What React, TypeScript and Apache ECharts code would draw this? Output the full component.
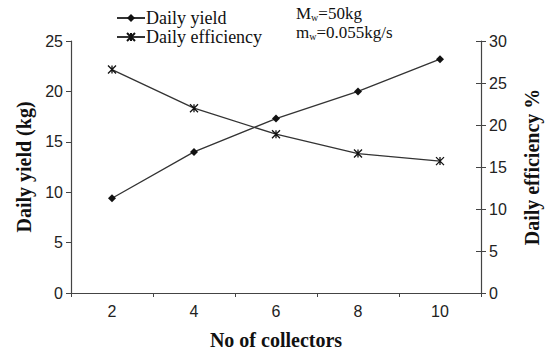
import React, { useEffect, useRef } from "react";
import * as echarts from "echarts";

const categories = ["2", "4", "6", "8", "10"];
const dailyYield = [9.4, 14.0, 17.3, 20.0, 23.2];
const dailyEfficiency = [26.6, 22.0, 18.9, 16.6, 15.7];
const leftTicks = { min: 0, max: 25, interval: 5 };
const rightTicks = { min: 0, max: 30, interval: 5 };

const STAR = "path://M0,0L10,10M10,0L0,10M5,0L5,10";

export default function App() {
  const ref = useRef<HTMLDivElement>(null);
  useEffect(() => {
    document.body.style.margin = "0";
    const chart = echarts.init(ref.current!, null, { renderer: "svg" });
    const axisColor = "#444";
    const serif = "Liberation Serif, Times New Roman, serif";
    const tickLabel = { color: "#222", fontSize: 16, fontFamily: "Liberation Sans, Arial, sans-serif" };
    const nameStyle = { color: "#111", fontSize: 20, fontWeight: "bold" as const, fontFamily: serif };
    chart.setOption({
      animation: false,
      backgroundColor: "#fff",
      grid: { left: 71, right: 64, top: 41, bottom: 57, containLabel: false },
      legend: {
        orient: "vertical",
        left: 111,
        top: 4,
        itemWidth: 28,
        itemHeight: 10,
        itemGap: 1,
        textStyle: { color: "#111", fontSize: 18, fontFamily: serif, padding: [0, 0, 0, -4] },
        data: ["Daily yield", "Daily efficiency"],
      },
      xAxis: {
        type: "category",
        data: categories,
        boundaryGap: true,
        name: "No of collectors",
        nameLocation: "middle",
        nameGap: 37,
        nameTextStyle: nameStyle,
        axisLine: { lineStyle: { color: axisColor, width: 1.2 } },
        axisTick: { show: true, length: 4, lineStyle: { color: axisColor } },
        axisLabel: { ...tickLabel, margin: 10 },
      },
      yAxis: [
        {
          type: "value",
          ...leftTicks,
          position: "left",
          name: "Daily yield (kg)",
          nameLocation: "middle",
          nameGap: 37,
          nameTextStyle: nameStyle,
          axisLine: { show: true, lineStyle: { color: axisColor, width: 1.2 } },
          axisTick: { show: true, length: 5, lineStyle: { color: axisColor } },
          axisLabel: { ...tickLabel, margin: 8 },
          splitLine: { show: false },
        },
        {
          type: "value",
          ...rightTicks,
          position: "right",
          name: "Daily efficiency %",
          nameLocation: "middle",
          nameGap: 41,
          nameRotate: 90,
          nameTextStyle: nameStyle,
          axisLine: { show: true, lineStyle: { color: axisColor, width: 1.2 } },
          axisTick: { show: true, length: 5, lineStyle: { color: axisColor } },
          axisLabel: { ...tickLabel, margin: 8 },
          splitLine: { show: false },
        },
        {
          type: "value",
          ...rightTicks,
          position: "right",
          axisLine: { show: false },
          axisTick: { show: true, inside: true, length: 5, lineStyle: { color: axisColor } },
          axisLabel: { show: false },
          splitLine: { show: false },
        },
      ],
      series: [
        {
          name: "Daily yield",
          type: "line",
          yAxisIndex: 0,
          data: dailyYield,
          symbol: "diamond",
          symbolSize: 8,
          lineStyle: { color: "#333", width: 1.3 },
          itemStyle: { color: "#111" },
        },
        {
          name: "Daily efficiency",
          type: "line",
          yAxisIndex: 1,
          data: dailyEfficiency,
          symbol: STAR,
          symbolSize: 8,
          lineStyle: { color: "#333", width: 1.3 },
          itemStyle: { color: "#111", borderColor: "#111", borderWidth: 1.3 },
        },
      ],
      graphic: [
        {
          type: "text",
          left: 296,
          top: 5,
          style: {
            text: "{b|M}{s|w}{b|=50kg}",
            rich: {
              b: { fontSize: 17, fontFamily: serif, fill: "#111" },
              s: { fontSize: 10, fontFamily: serif, fill: "#111", padding: [8, 0, 0, 0] },
            },
          },
        },
        {
          type: "text",
          left: 296,
          top: 24,
          style: {
            text: "{b|m}{s|w}{b|=0.055kg/s}",
            rich: {
              b: { fontSize: 17, fontFamily: serif, fill: "#111" },
              s: { fontSize: 10, fontFamily: serif, fill: "#111", padding: [8, 0, 0, 0] },
            },
          },
        },
      ],
    });
    return () => chart.dispose();
  }, []);
  return <div ref={ref} style={{ width: 550, height: 355 }} />;
}
